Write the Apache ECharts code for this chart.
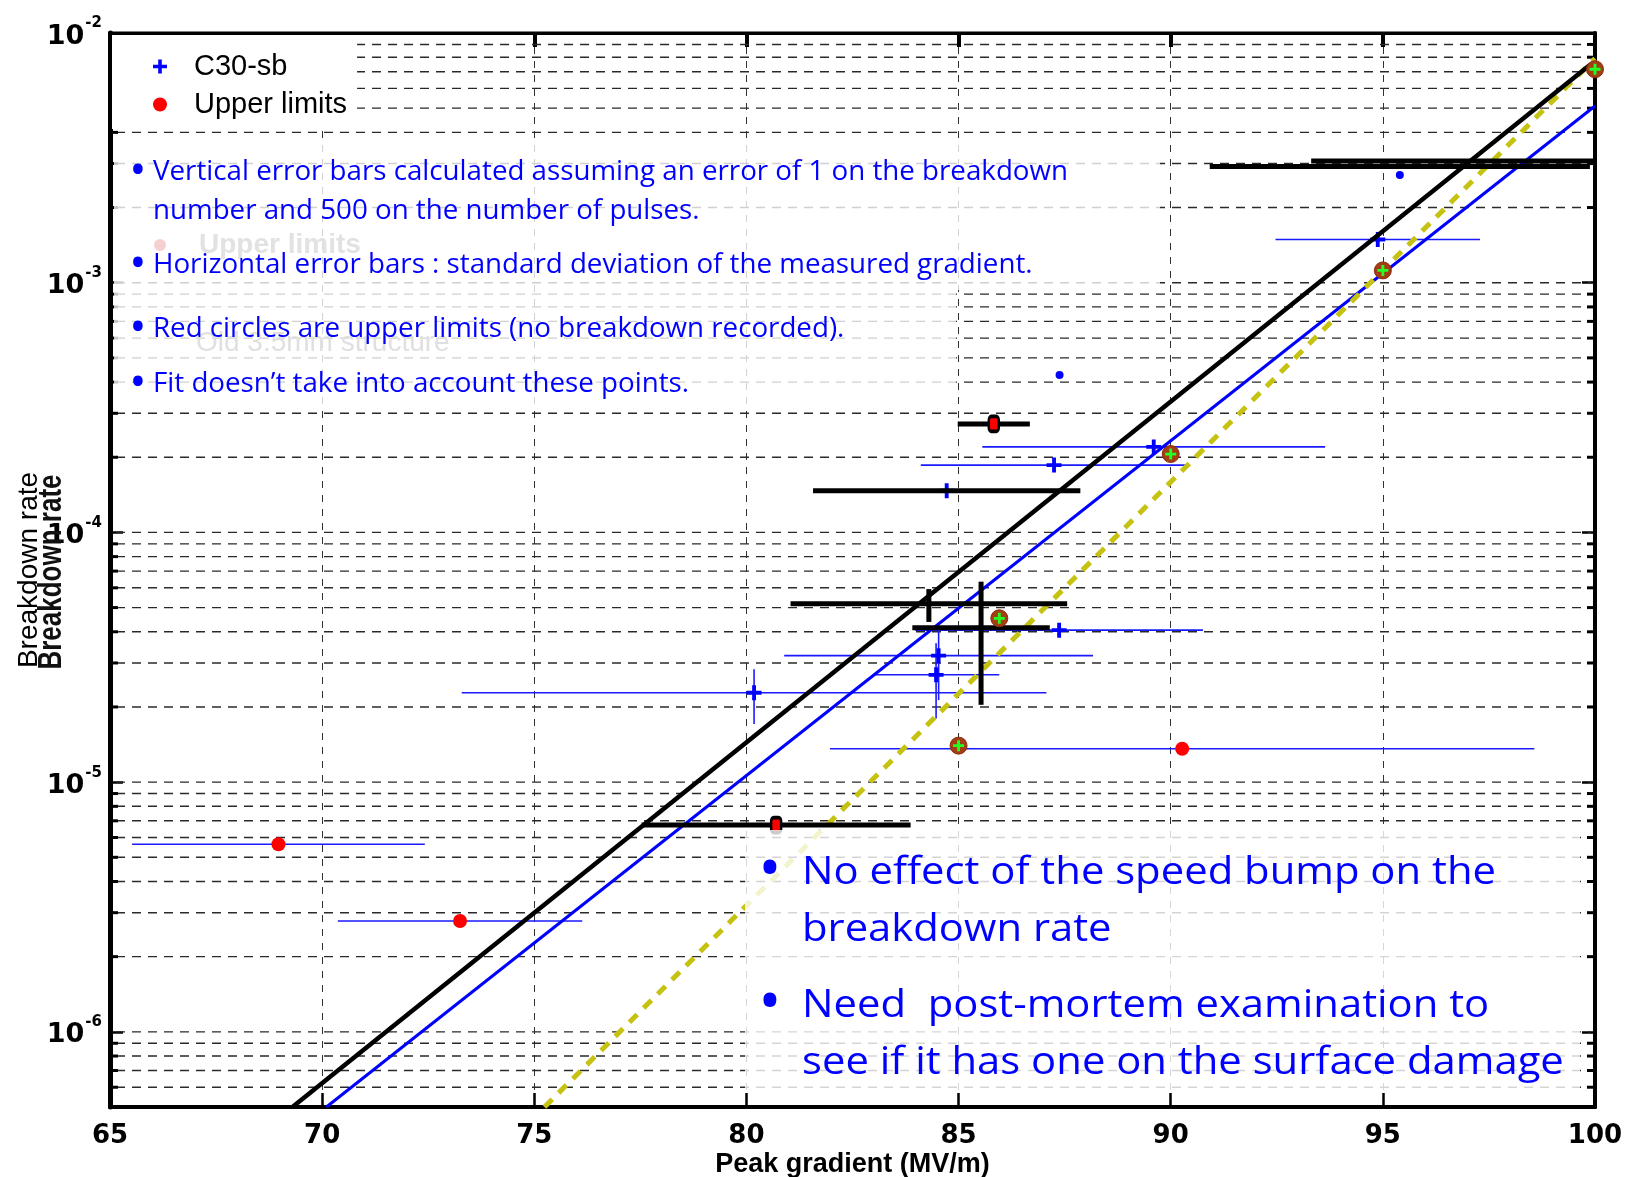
<!DOCTYPE html>
<html><head><meta charset="utf-8">
<script src="https://cdn.jsdelivr.net/npm/echarts@6/dist/echarts.min.js"></script>
<style>html,body{margin:0;padding:0;background:#fff}#c{width:1626px;height:1177px}</style>
</head><body><div id="c"></div>
<script>
// ---------- data ----------
const xTickValues = [65, 70, 75, 80, 85, 90, 95, 100];
const xTickLabels = ['65', '70', '75', '80', '85', '90', '95', '100'];
const xAxisName = 'Peak gradient (MV/m)';
const yAxisName = 'Breakdown rate';

// fit lines (gradient MV/m, breakdown rate)
const fitBlackX = [69.3, 99.9];
const fitBlackY = [5.0e-7, 7.5e-3];
const fitBlueX = [70.1, 100];
const fitBlueY = [5.0e-7, 5.1e-3];
const fitYellowX = [75.24, 100];
const fitYellowY = [5.0e-7, 7.9e-3];

// C30-sb points with error bars
const c30X     = [94.88, 89.60, 87.25, 84.72, 87.37, 84.53, 84.47, 80.18];
const c30Y     = [1.49e-3, 2.20e-4, 1.86e-4, 1.47e-4, 4.06e-5, 3.21e-5, 2.69e-5, 2.28e-5];
const c30XErr  = [2.41, 4.04, 3.14, 0, 3.39, 3.64, 1.49, 6.89];
const c30YLow  = [0, 0, 0, 0, 0, 2.13e-5, 1.80e-5, 1.71e-5];
const c30YHigh = [0, 0, 0, 0, 0, 4.06e-5, 3.60e-5, 2.83e-5];
// C30-sb points drawn as small dots
const c30DotX = [95.40, 87.38];
const c30DotY = [2.70e-3, 4.27e-4];

// upper limits
const ulX    = [68.97, 73.25, 90.27];
const ulY    = [5.64e-6, 2.78e-6, 1.36e-5];
const ulXErr = [3.45, 2.88, 8.30];

// overlaid reference structure (black error bars)
const refX     = [85.83, 84.72, 84.30, 85.53, 80.70, 95.40, 99.08];
const refY     = [2.72e-4, 1.47e-4, 5.18e-5, 4.15e-5, 6.73e-6, 2.92e-3, 3.07e-3];
const refXErr  = [0.85, 3.15, 3.26, 1.62, 3.17, 4.48, 5.77];
const refYLow  = [0, 0, 4.38e-5, 2.04e-5, 0, 0, 0];
const refYHigh = [0, 0, 5.93e-5, 6.35e-5, 0, 0, 0];
const refMarkX = [85.83, 80.70];
const refMarkY = [2.72e-4, 6.73e-6];

// overlaid upper-limit markers of the reference structure
const ovX = [100, 95, 90, 85.96, 85];
const ovY = [7.16e-3, 1.12e-3, 2.06e-4, 4.53e-5, 1.40e-5];

// annotation texts
const legendNames = ['C30-sb', 'Upper limits'];
const noteLines = [
  'Vertical error bars calculated assuming an error of 1 on the breakdown',
  'number and 500 on the number of pulses.',
  'Horizontal error bars : standard deviation of the measured gradient.',
  'Red circles are upper limits (no breakdown recorded).',
  'Fit doesn\u2019t take into account these points.'
];
const bigLines = [
  'No effect of the speed bump on the',
  'breakdown rate',
  'Need  post-mortem examination to',
  'see if it has one on the surface damage'
];
const ghostTexts = ['Old 3.5mm structure', 'Upper limits'];

// y grid line values (1..9 x 10^n inside the axis range)
const yGridValues = [];
for (let e = -7; e <= -3; e++) {
  for (let m = 1; m <= 9; m++) {
    const v = m * Math.pow(10, e);
    if (v > 5.01e-7 && v < 0.0099) yGridValues.push(v);
  }
}

// ---------- chart ----------
const chart = echarts.init(document.getElementById('c'), null, {renderer: 'canvas'});
const PLUS = 'path://M-1.8,-7H1.8V-1.8H7V1.8H1.8V7H-1.8V1.8H-7V-1.8H-1.8Z';
const X0 = 65, X1 = 100;

const mctx = document.createElement('canvas').getContext('2d');
function textWidth(t, font) { mctx.font = font; return mctx.measureText(t).width; }

function errRenderer(color, width) {
  return function (params, api) {
    const x = api.value(0), y = api.value(1), xe = api.value(2), yl = api.value(3), yh = api.value(4);
    const children = [];
    if (xe > 0) {
      const a = api.coord([x - xe, y]), b = api.coord([x + xe, y]);
      children.push({type: 'line', shape: {x1: a[0], y1: a[1], x2: b[0], y2: b[1]},
        style: {stroke: color, lineWidth: width}});
    }
    if (yl > 0 && yh > 0) {
      const a = api.coord([x, yl]), b = api.coord([x, yh]);
      children.push({type: 'line', shape: {x1: a[0], y1: a[1], x2: b[0], y2: b[1]},
        style: {stroke: color, lineWidth: width}});
    }
    return {type: 'group', children: children};
  };
}

const zip = (xs, ys) => xs.map((x, i) => [x, ys[i]]);

const upFont = '28px "Open Sans"';
const upScale = 915 / textWidth(noteLines[0], upFont);
const bigFont = '38px "Open Sans"';
const bigScale = 694 / textWidth(bigLines[0], bigFont);

const noteY = [172, 211, 265, 329, 384];
const noteBullet = [true, false, true, true, true];
const bigY = [873, 930, 1006, 1063];
const bigBullet = [true, false, true, false];

const gfx = [];
// white masks over the grid
gfx.push({type: 'rect', z: 50, shape: {x: 114, y: 140, width: 1046, height: 150}, style: {fill: 'rgba(255,255,255,0.78)'}});
gfx.push({type: 'rect', z: 50, shape: {x: 114, y: 290, width: 842, height: 120}, style: {fill: 'rgba(255,255,255,0.78)'}});
gfx.push({type: 'rect', z: 50, shape: {x: 745, y: 830, width: 835, height: 263}, style: {fill: 'rgba(255,255,255,0.8)'}});
// ghost texts
gfx.push({type: 'text', z: 51, x: 196, y: 343, style: {text: ghostTexts[0], font: '28px "Liberation Sans"', fill: '#e0e0e0', verticalAlign: 'middle'}});
gfx.push({type: 'text', z: 51, x: 199, y: 245, style: {text: ghostTexts[1], font: 'bold 28px "Liberation Sans"', fill: '#e2e2e2', verticalAlign: 'middle'}});
gfx.push({type: 'circle', z: 51, shape: {cx: 160, cy: 245, r: 6}, style: {fill: '#f6d0d0'}});
noteLines.forEach((t, i) => {
  gfx.push({type: 'text', z: 52, x: 153, y: noteY[i], scaleX: upScale,
    style: {text: t, font: upFont, fill: '#0000ff', verticalAlign: 'middle'}});
  if (noteBullet[i]) gfx.push({type: 'text', z: 52, x: 138, y: noteY[i] - 1,
    style: {text: '\u2022', font: 'bold 34px "Open Sans"', fill: '#0000ff', align: 'center', verticalAlign: 'middle'}});
});
bigLines.forEach((t, i) => {
  gfx.push({type: 'text', z: 52, x: 802, y: bigY[i], scaleX: bigScale,
    style: {text: t, font: bigFont, fill: '#0000ff', verticalAlign: 'middle'}});
  if (bigBullet[i]) gfx.push({type: 'text', z: 52, x: 770, y: bigY[i] - 2,
    style: {text: '\u2022', font: 'bold 46px "Open Sans"', fill: '#0000ff', align: 'center', verticalAlign: 'middle'}});
});
// heavy smeared duplicate of the y label
gfx.push({type: 'text', z: 52, x: 52, y: 572, rotation: Math.PI / 2, scaleY: 1.25,
  style: {text: yAxisName, font: 'bold 26px "Liberation Sans"', fill: '#111', align: 'center', verticalAlign: 'middle'}});

const yLabelRich = {
  b: {fontFamily: 'DejaVu Sans', fontWeight: 'bold', fontSize: 27, lineHeight: 28, color: '#000', verticalAlign: 'bottom', padding: [0, 0, 7, 0]},
  s: {fontFamily: 'DejaVu Sans', fontWeight: 'bold', fontSize: 15, lineHeight: 15, color: '#000', verticalAlign: 'bottom', padding: [0, 0, 26, 1]}
};
function yFmt(v) {
  const l = Math.log10(v), e = Math.round(l);
  if (Math.abs(l - e) > 1e-6) return '';
  return '{b|10}{s|' + e + '}';
}

const option = {
  animation: false,
  backgroundColor: '#fff',
  grid: {left: 110, right: 31, top: 33, bottom: 70, containLabel: false, outerBoundsMode: 'none',
    show: true, borderColor: '#000', borderWidth: 3},
  legend: {
    orient: 'vertical', left: 112, top: 35, z: 60,
    padding: [17, 10, 10, 41], itemGap: 9, itemWidth: 14, itemHeight: 14,
    backgroundColor: '#fff', selectedMode: false,
    textStyle: {fontFamily: 'Liberation Sans', fontSize: 29, color: '#000', padding: [0, 0, 0, 22]},
    data: [{name: legendNames[0], icon: PLUS}, {name: legendNames[1], icon: 'circle'}]
  },
  xAxis: [
    {type: 'value', min: X0, max: X1, interval: 5, position: 'bottom',
      name: xAxisName, nameLocation: 'middle', nameGap: 44, nameMoveOverlap: false,
      nameTextStyle: {fontFamily: 'Liberation Sans', fontWeight: 'bold', fontSize: 27, color: '#000'},
      axisLine: {show: true, onZero: false, lineStyle: {color: '#000', width: 4}},
      axisTick: {show: true, inside: true, length: 14, lineStyle: {color: '#000', width: 2.5}},
      axisLabel: {margin: 16, fontFamily: 'DejaVu Sans', fontWeight: 'bold', fontSize: 26, color: '#000',
        formatter: v => { const i = xTickValues.indexOf(v); return i >= 0 ? xTickLabels[i] : ''; }},
      splitLine: {show: true, lineStyle: {color: '#333', width: 1, type: [7, 7]}}},
    {type: 'value', min: X0, max: X1, interval: 5, position: 'top',
      axisLine: {show: true, onZero: false, lineStyle: {color: '#000', width: 3}},
      axisTick: {show: true, inside: true, length: 14, lineStyle: {color: '#000', width: 4}},
      axisLabel: {show: false}, splitLine: {show: false}}
  ],
  yAxis: [
    {type: 'log', logBase: 10, min: 5e-7, max: 1e-2, position: 'left',
      name: yAxisName, nameLocation: 'middle', nameGap: 67, nameMoveOverlap: false,
      nameTextStyle: {fontFamily: 'Liberation Sans', fontSize: 28, color: '#000'},
      axisLine: {show: true, onZero: false, lineStyle: {color: '#000', width: 5}},
      axisTick: {show: true, inside: true, length: 13, lineStyle: {color: '#000', width: 2.5}},
      axisLabel: {margin: 8, padding: [20, 0, 0, 0], formatter: yFmt, rich: yLabelRich},
      splitLine: {show: false}},
    {type: 'log', logBase: 10, min: 5e-7, max: 1e-2, position: 'right',
      axisLine: {show: true, onZero: false, lineStyle: {color: '#000', width: 4}},
      axisTick: {show: true, inside: true, length: 13, lineStyle: {color: '#000', width: 2.5}},
      axisLabel: {show: false}, splitLine: {show: false}}
  ],
  series: [
    {type: 'custom', name: 'ygrid', z: 1, silent: true, clip: true,
      encode: {x: 0, y: 1},
      data: yGridValues.map(v => [X0, v]),
      renderItem: function (params, api) {
        const v = api.value(1);
        const L = api.coord([X0, v]), R = api.coord([X1, v]);
        const l = Math.log10(v), major = Math.abs(l - Math.round(l)) < 1e-6;
        const ch = [{type: 'line', shape: {x1: L[0] + 6, y1: L[1], x2: R[0] - 4, y2: R[1]},
          style: {stroke: '#2a2a2a', lineWidth: 1.4, lineDash: [9, 7]}}];
        if (!major) {
          ch.push({type: 'line', shape: {x1: L[0], y1: L[1], x2: L[0] + 8, y2: L[1]}, style: {stroke: '#000', lineWidth: 3}});
          ch.push({type: 'line', shape: {x1: R[0] - 8, y1: R[1], x2: R[0], y2: R[1]}, style: {stroke: '#000', lineWidth: 3}});
        }
        return {type: 'group', children: ch};
      }},
    {type: 'custom', name: 'C30-sb errors', z: 3, clip: true, encode: {x: 0, y: 1},
      data: c30X.map((x, i) => [x, c30Y[i], c30XErr[i], c30YLow[i], c30YHigh[i]]),
      renderItem: errRenderer('#1a1aff', 1.6)},
    {type: 'custom', name: 'Upper limits errors', z: 3, clip: true, encode: {x: 0, y: 1},
      data: ulX.map((x, i) => [x, ulY[i], ulXErr[i], 0, 0]),
      renderItem: errRenderer('#1a1aff', 1.6)},
    {type: 'scatter', name: legendNames[0], z: 4, symbol: PLUS, symbolSize: 15,
      itemStyle: {color: '#0000ff', opacity: 1}, data: zip(c30X, c30Y)},
    {type: 'scatter', name: 'C30-sb dots', z: 4, symbol: 'circle', symbolSize: 8,
      itemStyle: {color: '#0000ff', opacity: 1}, data: zip(c30DotX, c30DotY)},
    {type: 'scatter', name: legendNames[1], z: 4, symbol: 'circle', symbolSize: 14,
      itemStyle: {color: '#ff0000', opacity: 1}, data: zip(ulX, ulY)},
    {type: 'line', name: 'fit blue', z: 5, showSymbol: false, symbol: 'none',
      lineStyle: {color: '#0000ff', width: 3}, data: zip(fitBlueX, fitBlueY)},
    {type: 'line', name: 'fit yellow', z: 5, showSymbol: false, symbol: 'none',
      lineStyle: {color: '#c6c212', width: 5, type: [11, 9]}, data: zip(fitYellowX, fitYellowY)},
    {type: 'line', name: 'fit black', z: 6, showSymbol: false, symbol: 'none',
      lineStyle: {color: '#000', width: 4.5}, data: zip(fitBlackX, fitBlackY)},
    {type: 'custom', name: 'reference errors', z: 7, clip: true, encode: {x: 0, y: 1},
      data: refX.map((x, i) => [x, refY[i], refXErr[i], refYLow[i], refYHigh[i]]),
      renderItem: errRenderer('#000', 5)},
    {type: 'scatter', name: 'reference points', z: 8, symbol: 'roundRect', symbolSize: [10, 15],
      itemStyle: {color: '#ff0000', borderColor: '#000', borderWidth: 3, opacity: 1}, data: zip(refMarkX, refMarkY)},
    {type: 'scatter', name: 'reference limits', z: 8, symbol: 'circle', symbolSize: 17,
      itemStyle: {color: '#a43c14', borderColor: '#8a2e0c', borderWidth: 1, opacity: 1}, data: zip(ovX, ovY)},
    {type: 'scatter', name: 'reference limits centre', z: 9, symbol: PLUS, symbolSize: 11,
      itemStyle: {color: '#22ff22', opacity: 1}, data: zip(ovX, ovY)}
  ],
  graphic: {elements: gfx}
};
chart.setOption(option);
</script>
</body></html>
